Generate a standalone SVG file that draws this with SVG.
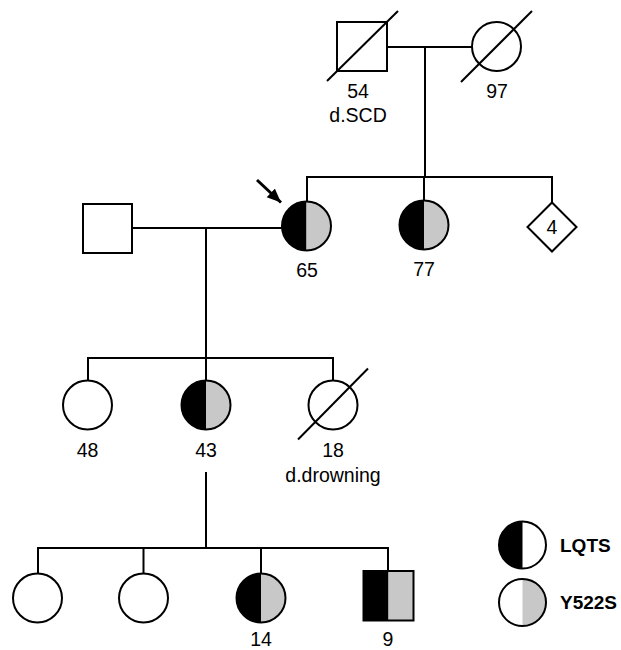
<svg xmlns="http://www.w3.org/2000/svg" xmlns:xlink="http://www.w3.org/1999/xlink" width="621" height="650" viewBox="0 0 621 650">
<style>
.ln{stroke:#000;stroke-width:2;fill:none}
.sh{stroke:#000;stroke-width:2;fill:#fff}
.lb{font-family:"Liberation Sans",Arial,sans-serif;font-size:19.5px;fill:#000;text-anchor:middle}
.lg{font-family:"Liberation Sans",Arial,sans-serif;font-size:19px;font-weight:bold;fill:#000}
</style>
<defs>
<g id="aff">
<path d="M0,-24.5 A24.5,24.5 0 0 0 0,24.5 Z" fill="#000"/>
<path d="M0,-24.5 A24.5,24.5 0 0 1 0,24.5 Z" fill="#c8c8c8"/>
<circle r="24.5" fill="none" stroke="#000" stroke-width="2"/>
</g>
<marker id="ah" markerUnits="userSpaceOnUse" markerWidth="16" markerHeight="14" refX="14" refY="6" orient="auto">
<path d="M0,0 L14,6 L0,12 Z" fill="#000"/>
</marker>
</defs>
<g id="connectors">
<line class="ln" x1="387" y1="47" x2="472" y2="47"/>
<line class="ln" x1="425" y1="47" x2="425" y2="177"/>
<polyline class="ln" points="307,201.5 307,177 552,177 552,203"/>
<line class="ln" x1="424" y1="177" x2="424" y2="201"/>
<line class="ln" x1="132" y1="228" x2="282" y2="228"/>
<line class="ln" x1="206" y1="228" x2="206" y2="358"/>
<polyline class="ln" points="88,380.5 88,358 333,358 333,380.5"/>
<line class="ln" x1="206" y1="358" x2="206" y2="380.5"/>
<line class="ln" x1="206" y1="472" x2="206" y2="548"/>
<polyline class="ln" points="38,573.5 38,548 388,548 388,571"/>
<line class="ln" x1="143.5" y1="548" x2="143.5" y2="573.5"/>
<line class="ln" x1="261" y1="548" x2="261" y2="573.5"/>
<line stroke="#000" stroke-width="3" x1="257" y1="180" x2="281" y2="202.5" marker-end="url(#ah)"/>
</g>
<g id="I-1">
<rect class="sh" x="337" y="22" width="50" height="49"/>
<line class="ln" x1="327" y1="81" x2="398" y2="11"/>
<text class="lb" x="358" y="97.5">54</text>
<text class="lb" x="358" y="122">d.SCD</text>
</g>
<g id="I-2">
<circle class="sh" cx="496.5" cy="46.5" r="24.5"/>
<line class="ln" x1="461" y1="82" x2="532" y2="11"/>
<text class="lb" x="497" y="97.5">97</text>
</g>
<g id="II-1">
<rect class="sh" x="83" y="204" width="49" height="49"/>
</g>
<g id="II-2">
<use xlink:href="#aff" href="#aff" transform="translate(306.5,226)"/>
<text class="lb" x="307" y="277">65</text>
</g>
<g id="II-3">
<use xlink:href="#aff" href="#aff" transform="translate(424,225)"/>
<text class="lb" x="424" y="276">77</text>
</g>
<g id="II-4">
<polygon class="sh" points="552,202.5 576.5,227 552,251.5 527.5,227"/>
<text class="lb" x="552" y="234">4</text>
</g>
<g id="III-1">
<circle class="sh" cx="87.5" cy="405" r="24.5"/>
<text class="lb" x="87.5" y="456.5">48</text>
</g>
<g id="III-2">
<use xlink:href="#aff" href="#aff" transform="translate(206,405)"/>
<text class="lb" x="206" y="456.5">43</text>
</g>
<g id="III-3">
<circle class="sh" cx="333" cy="405" r="24.5"/>
<line class="ln" x1="298" y1="439.5" x2="368" y2="368.5"/>
<text class="lb" x="333" y="456.5">18</text>
<text class="lb" x="333" y="481.5">d.drowning</text>
</g>
<g id="IV-1">
<circle class="sh" cx="37.5" cy="598" r="24.5"/>
</g>
<g id="IV-2">
<circle class="sh" cx="143.5" cy="598" r="24.5"/>
</g>
<g id="IV-3">
<use xlink:href="#aff" href="#aff" transform="translate(261,598)"/>
<text class="lb" x="261" y="645.5">14</text>
</g>
<g id="IV-4">
<rect x="363.5" y="571" width="25" height="49.5" fill="#000"/>
<rect x="388.5" y="571" width="25" height="49.5" fill="#c8c8c8"/>
<rect class="ln" x="363.5" y="571" width="50" height="49.5"/>
<text class="lb" x="388" y="645.5">9</text>
</g>
<g id="legend-LQTS">
<path d="M522.5,521.5 A23.5,23.5 0 0 0 522.5,568.5 Z" fill="#000"/>
<circle cx="522.5" cy="545" r="23.5" fill="none" stroke="#000" stroke-width="2"/>
<text class="lg" x="560" y="551.5">LQTS</text>
</g>
<g id="legend-Y522S">
<path d="M522.5,579 A23.5,23.5 0 0 1 522.5,626 Z" fill="#c8c8c8"/>
<circle cx="522.5" cy="602.5" r="23.5" fill="none" stroke="#000" stroke-width="2"/>
<text class="lg" x="560" y="608.5">Y522S</text>
</g>
</svg>
